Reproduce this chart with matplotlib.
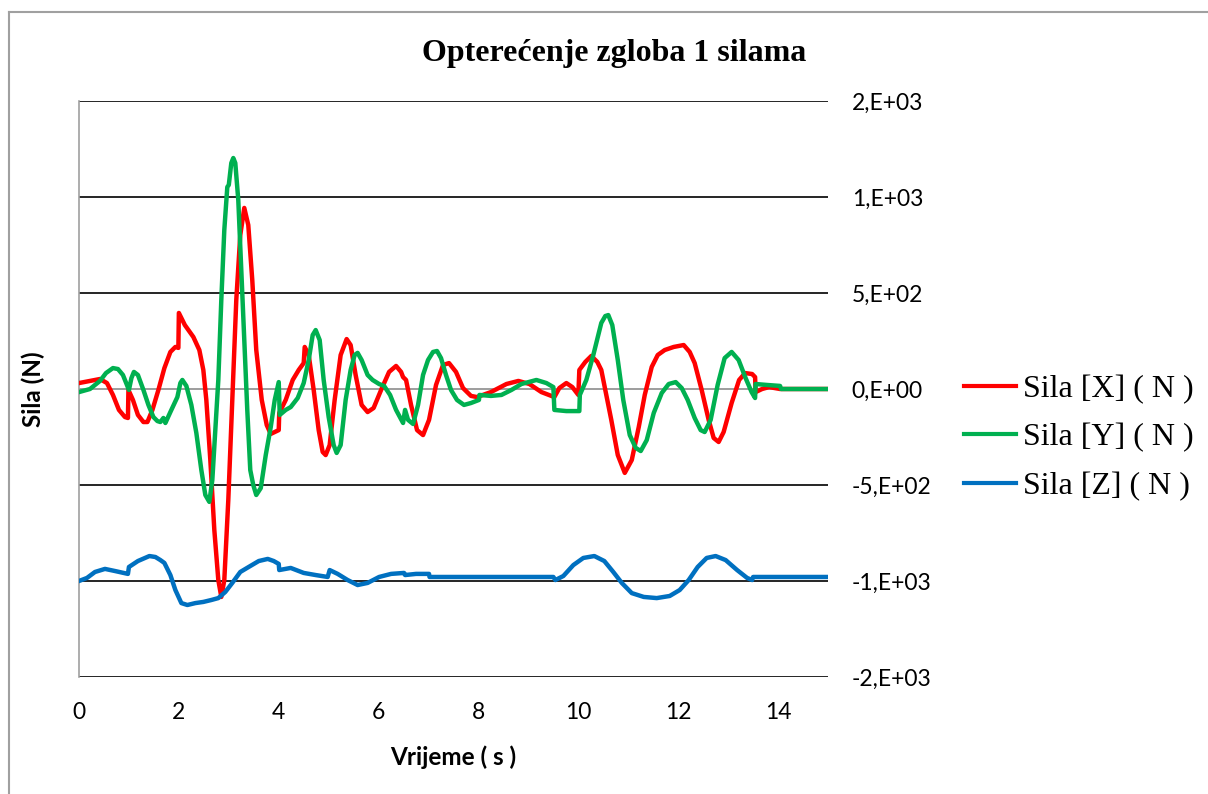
import matplotlib
matplotlib.use('Agg')
import matplotlib.pyplot as plt
from matplotlib.lines import Line2D

# time axis and force values
t_x = [0.0, 0.22, 0.42, 0.56, 0.68, 0.80, 0.92, 0.98, 0.99, 1.08, 1.18, 1.29, 1.37, 1.47, 1.59,
       1.71, 1.83, 1.93, 1.99, 2.0, 2.12, 2.29, 2.41, 2.49, 2.55, 2.63, 2.71, 2.79, 2.85, 2.91,
       2.99, 3.07, 3.15, 3.23, 3.31, 3.39, 3.47, 3.55, 3.66, 3.76, 3.84, 3.92, 4.0, 4.01, 4.14,
       4.28, 4.40, 4.50, 4.52, 4.60, 4.70, 4.80, 4.88, 4.94, 5.02, 5.12, 5.24, 5.36, 5.44, 5.54,
       5.66, 5.78, 5.90, 6.05, 6.21, 6.35, 6.45, 6.49, 6.55, 6.65, 6.77, 6.89, 7.01, 7.15, 7.29,
       7.41, 7.55, 7.69, 7.85, 7.97, 8.25, 8.56, 8.80, 9.02, 9.26, 9.52, 9.62, 9.76, 9.88, 10.0,
       10.02, 10.14, 10.26, 10.38, 10.46, 10.56, 10.66, 10.79, 10.93, 11.07, 11.21, 11.33, 11.47,
       11.59, 11.73, 11.91, 12.11, 12.23, 12.33, 12.47, 12.61, 12.71, 12.81, 12.91, 13.07, 13.22,
       13.34, 13.48, 13.54, 13.55, 13.68, 13.82, 14.04, 15.0]
sila_x = [31, 42, 52, 31, -31, -109, -146, -151, -5, -57, -135, -172, -172, -109, -5,
          109, 193, 219, 214, 396, 333, 271, 203, 99, -57, -370, -734, -995, -1083, -995,
          -578, -57, 464, 802, 943, 854, 568, 203, -57, -188, -234, -224, -214, -125, -57,
          47, 99, 135, 219, 177, -5, -214, -328, -344, -292, -57, 177, 260, 229, 73,
          -83, -120, -99, -5, 89, 120, 89, 62, 47, -83, -214, -240, -161, 21, 125,
          135, 89, 5, -36, -42, -16, 26, 42, 26, -16, -42, 5, 31, 10, -31,
          99, 141, 172, 141, 99, -31, -161, -344, -437, -370, -198, -31, 115,
          177, 203, 219, 229, 193, 135, -5, -161, -255, -276, -224, -73, 47,
          83, 78, 62, -16, 0, 10, 0, 0]

t_y = [0.0, 0.22, 0.42, 0.54, 0.68, 0.78, 0.88, 0.96, 1.0, 1.05, 1.10, 1.18, 1.29, 1.39, 1.49,
       1.57, 1.63, 1.69, 1.73, 1.83, 1.97, 2.03, 2.07, 2.15, 2.25, 2.35, 2.45, 2.53, 2.61, 2.67,
       2.73, 2.79, 2.85, 2.91, 2.97, 3.0, 3.05, 3.09, 3.13, 3.19, 3.25, 3.31, 3.37, 3.43, 3.49,
       3.55, 3.64, 3.74, 3.84, 3.92, 4.0, 4.02, 4.14, 4.24, 4.38, 4.50, 4.60, 4.68, 4.74, 4.82,
       4.90, 5.0, 5.10, 5.16, 5.24, 5.34, 5.44, 5.52, 5.58, 5.66, 5.78, 5.88, 6.01, 6.11, 6.23,
       6.35, 6.49, 6.53, 6.59, 6.69, 6.79, 6.89, 6.99, 7.09, 7.17, 7.25, 7.35, 7.45, 7.57, 7.71,
       7.85, 8.01, 8.02, 8.25, 8.46, 8.66, 8.86, 9.16, 9.36, 9.50, 9.52, 9.76, 10.02, 10.03, 10.16,
       10.30, 10.46, 10.54, 10.60, 10.68, 10.79, 10.90, 11.03, 11.15, 11.25, 11.37, 11.51, 11.67,
       11.81, 11.95, 12.07, 12.19, 12.33, 12.45, 12.53, 12.65, 12.79, 12.93, 13.07, 13.21, 13.35,
       13.47, 13.54, 13.55, 13.78, 14.04, 14.06, 15.0]
sila_y = [-16, 0, 42, 83, 109, 104, 73, 21, -5, 57, 89, 73, -5, -83, -146,
          -167, -172, -151, -177, -120, -42, 31, 47, 16, -83, -229, -422, -552, -588, -474,
          -214, 47, 464, 828, 1052, 1063, 1177, 1203, 1177, 984, 620, 255, -109, -422, -500,
          -552, -516, -344, -198, -57, 36, -135, -109, -94, -47, 31, 151, 281, 307, 255,
          47, -146, -292, -333, -292, -57, 99, 177, 188, 151, 73, 47, 26, 16, -31,
          -109, -177, -109, -161, -182, -83, 73, 151, 193, 198, 161, 73, -5, -57, -83,
          -73, -57, -31, -36, -31, -5, 26, 47, 31, 10, -109, -115, -115, -31, 47,
          177, 344, 380, 385, 333, 151, -57, -240, -307, -323, -266, -125, -21,
          26, 36, 5, -57, -151, -214, -224, -161, 21, 161, 193, 151, 57,
          -16, -47, 26, 21, 16, 0, 0]

t_z = [0.0, 0.16, 0.32, 0.52, 0.72, 0.98, 1.0, 1.18, 1.41, 1.53, 1.63, 1.71, 1.83, 1.93, 2.05,
       2.17, 2.33, 2.49, 2.65, 2.79, 2.93, 3.07, 3.23, 3.43, 3.60, 3.78, 3.90, 4.0, 4.01, 4.24,
       4.50, 4.74, 4.98, 5.02, 5.18, 5.38, 5.58, 5.78, 6.01, 6.25, 6.51, 6.53, 6.75, 7.01, 7.02,
       9.50, 9.54, 9.70, 9.90, 10.10, 10.32, 10.52, 10.70, 10.87, 11.07, 11.31, 11.57, 11.83,
       12.03, 12.21, 12.39, 12.57, 12.75, 12.95, 13.18, 13.38, 13.48, 13.50, 15.0]
sila_z = [-1000, -984, -953, -937, -948, -963, -927, -896, -870, -875, -891, -906, -969, -1047, -1115,
          -1125, -1115, -1109, -1099, -1089, -1057, -1010, -953, -922, -896, -885, -896, -911, -943, -932,
          -958, -969, -979, -943, -963, -995, -1021, -1010, -979, -963, -958, -969, -963, -963, -979,
          -979, -995, -974, -917, -880, -870, -896, -953, -1010, -1063, -1083, -1089, -1078,
          -1047, -995, -927, -880, -870, -891, -943, -984, -995, -979, -979]

x_ticks = [0, 2, 4, 6, 8, 10, 12, 14]
y_ticks = [-1500, -1000, -500, 0, 500, 1000, 1500]
y_tick_labels = ['-2,E+03', '-1,E+03', '-5,E+02', '0,E+00', '5,E+02', '1,E+03', '2,E+03']
series_names = ['Sila [X] ( N )', 'Sila [Y] ( N )', 'Sila [Z] ( N )']

plt.rcParams['font.family'] = ['Lato', 'DejaVu Sans']

fig = plt.figure(figsize=(12.08, 7.94), dpi=100)
ax = fig.add_axes([79 / 1208, 1 - 677 / 794, (828 - 79) / 1208, (677 - 101) / 794])

# chart border (gray frame running off the right and bottom edges)
fig.add_artist(Line2D([9 / 1208, 1.0], [1 - 12 / 794] * 2, color='#a0a0a0', lw=1.5,
                      transform=fig.transFigure))
fig.add_artist(Line2D([9 / 1208] * 2, [0.0, 1 - 12 / 794], color='#a0a0a0', lw=1.5,
                      transform=fig.transFigure))

for yv in y_ticks:
    if yv != 0:
        ax.axhline(yv, color='black', lw=1.2, zorder=1)
ax.axhline(0, color='#8c8c8c', lw=1.2, zorder=1)

ax.plot(t_x, sila_x, color='#ff0000', lw=3.2, label=series_names[0], zorder=3)
ax.plot(t_y, sila_y, color='#00b050', lw=3.2, label=series_names[1], zorder=3)
ax.plot(t_z, sila_z, color='#0070c0', lw=3.2, label=series_names[2], zorder=3)

ax.set_xlim(0, 15)
ax.set_ylim(-1500, 1500)
ax.set_xticks(x_ticks)
ax.set_yticks(y_ticks)
ax.set_yticklabels(y_tick_labels)
ax.yaxis.tick_right()
ax.tick_params(axis='y', length=0, pad=17, labelsize=16.5)
ax.tick_params(axis='x', length=0, pad=18, labelsize=16.5)

for side in ['top', 'right', 'bottom']:
    ax.spines[side].set_visible(False)
ax.spines['left'].set_color('#a0a0a0')
ax.spines['left'].set_linewidth(1.2)

ax.set_xlabel('Vrijeme ( s )', fontsize=17.5, fontweight='bold', labelpad=16)
fig.text(33 / 1208, 1 - 389 / 794, 'Sila (N)', rotation=90, fontsize=17.5, fontweight='bold',
         ha='center', va='center')

fig.text(614 / 1208, 1 - 53 / 794, 'Opterećenje zgloba 1 silama', fontsize=23,
         fontweight='bold', family='Liberation Serif', ha='center', va='center')

leg = fig.legend(loc='center left', bbox_to_anchor=(935 / 1208, 1 - 438 / 794), frameon=False,
                 prop={'family': 'Liberation Serif', 'size': 23}, handlelength=1.65,
                 handletextpad=0.2, labelspacing=0.6)
for line in leg.get_lines():
    line.set_linewidth(3)

fig.savefig('out.png', dpi=100)
